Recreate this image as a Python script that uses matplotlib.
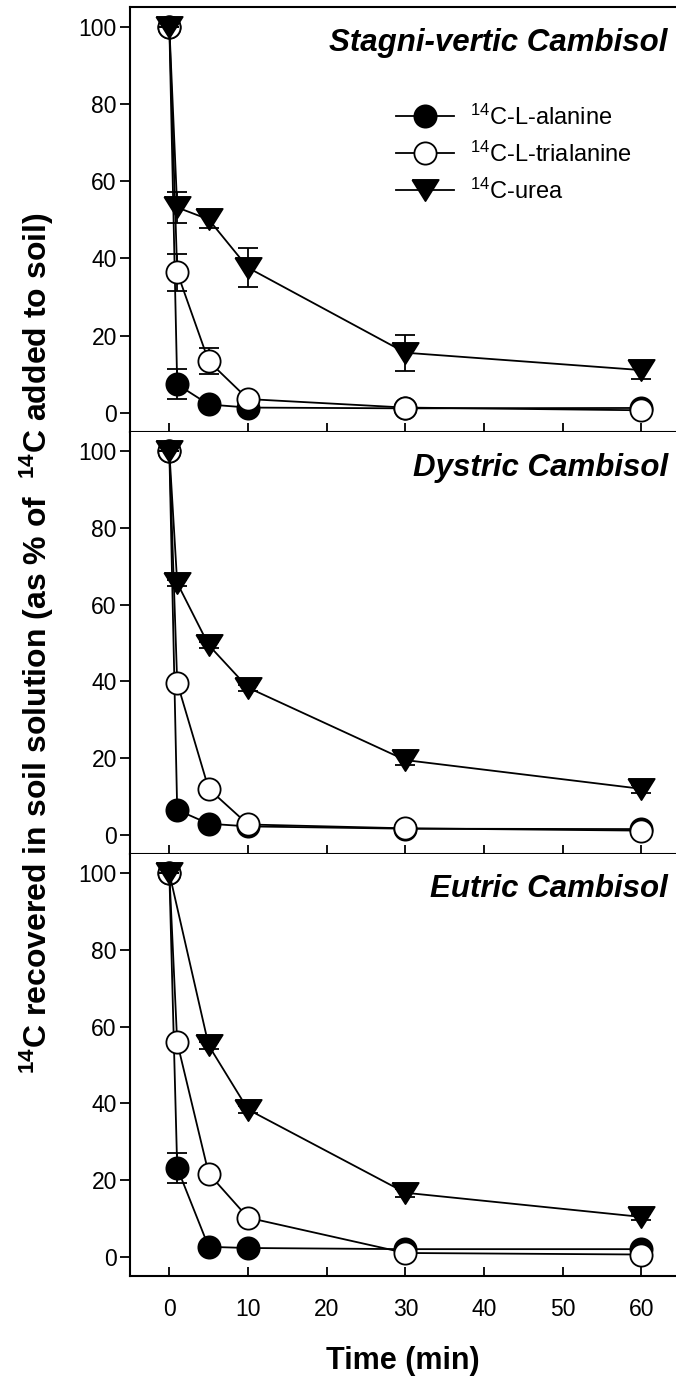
import matplotlib
matplotlib.use("Agg")
import matplotlib.pyplot as plt

# sampling times (min)
TIME = [0, 1, 5, 10, 30, 60]
TIME_UREA_EUTRIC = [0, 5, 10, 30, 60]

SOILS = ["Stagni-vertic Cambisol", "Dystric Cambisol", "Eutric Cambisol"]

# 14C left in soil solution (% of added)
ALA_STAGNI = [100, 7.4, 2.2, 1.4, 1.2, 1.3]
ALA_STAGNI_ERR = [0, 3.9, 0.4, 0.3, 0.3, 0.3]
TRI_STAGNI = [100, 36.4, 13.4, 3.6, 1.4, 0.7]
TRI_STAGNI_ERR = [0, 4.7, 3.4, 0.5, 0.3, 0.5]
UREA_STAGNI = [100, 53.2, 50.1, 37.6, 15.6, 11.1]
UREA_STAGNI_ERR = [0, 4.0, 2.3, 5.0, 4.7, 2.3]

ALA_DYSTRIC = [100, 6.5, 2.9, 2.2, 1.6, 1.5]
ALA_DYSTRIC_ERR = [0, 0.5, 0.3, 0.3, 0.2, 0.2]
TRI_DYSTRIC = [100, 39.7, 12.0, 2.7, 1.7, 1.1]
TRI_DYSTRIC_ERR = [0, 0.8, 0.5, 0.3, 0.3, 0.3]
UREA_DYSTRIC = [100, 65.7, 49.5, 38.4, 19.5, 12.0]
UREA_DYSTRIC_ERR = [0, 0.8, 0.8, 0.8, 1.2, 1.0]

ALA_EUTRIC = [100, 23.2, 2.6, 2.3, 2.0, 2.0]
ALA_EUTRIC_ERR = [0, 3.9, 0.3, 0.3, 0.3, 0.3]
TRI_EUTRIC = [100, 55.9, 21.7, 10.2, 1.0, 0.6]
TRI_EUTRIC_ERR = [0, 0.8, 0.8, 0.5, 0.3, 0.3]
UREA_EUTRIC = [100, 55.1, 38.4, 16.7, 10.4]
UREA_EUTRIC_ERR = [0, 0.8, 0.8, 1.0, 0.8]

LABELS = [r"$^{14}$C-L-alanine", r"$^{14}$C-L-trialanine", r"$^{14}$C-urea"]

plt.rcParams["font.family"] = ["Liberation Sans", "DejaVu Sans"]
plt.rcParams["mathtext.fontset"] = "custom"
plt.rcParams["mathtext.rm"] = "Liberation Sans"
plt.rcParams["mathtext.it"] = "Liberation Sans:italic"
plt.rcParams["mathtext.bf"] = "Liberation Sans:bold"

W, H = 676, 1381
fig = plt.figure(figsize=(W / 100, H / 100), dpi=100)

# panel edges in pixels (top, bottom)
left_px = 130.0
edges = [(7.3, 432.3), (432.3, 854.0), (854.0, 1276.0)]

panels = [
    (SOILS[0], [(TIME, ALA_STAGNI, ALA_STAGNI_ERR), (TIME, TRI_STAGNI, TRI_STAGNI_ERR),
                (TIME, UREA_STAGNI, UREA_STAGNI_ERR)]),
    (SOILS[1], [(TIME, ALA_DYSTRIC, ALA_DYSTRIC_ERR), (TIME, TRI_DYSTRIC, TRI_DYSTRIC_ERR),
                (TIME, UREA_DYSTRIC, UREA_DYSTRIC_ERR)]),
    (SOILS[2], [(TIME, ALA_EUTRIC, ALA_EUTRIC_ERR), (TIME, TRI_EUTRIC, TRI_EUTRIC_ERR),
                (TIME_UREA_EUTRIC, UREA_EUTRIC, UREA_EUTRIC_ERR)]),
]

# flatter, wider down-triangle like the original
tri_down = [(-1, 0.8), (1, 0.8), (0, -0.8), (-1, 0.8)]
styles = [
    dict(marker="o", mfc="black", ms=16),
    dict(marker="o", mfc="white", ms=16),
    dict(marker=tri_down, mfc="black", ms=19),
]

for i, (title, series) in enumerate(panels):
    top, bot = edges[i]
    ax = fig.add_axes([left_px / W, 1 - bot / H, 1 - left_px / W, (bot - top) / H])
    handles = []
    for k, ((xs, ys, es), st) in enumerate(zip(series, styles)):
        ax.errorbar(xs, ys, yerr=es, fmt="none", ecolor="black", elinewidth=1.3,
                    capsize=7, capthick=1.3, zorder=2 + k * 2)
        ln, = ax.plot(xs, ys, color="black", lw=1.3, marker=st["marker"], ms=st["ms"],
                      mfc=st["mfc"], mec="black", mew=1.3, zorder=3 + k * 2)
        handles.append(ln)

    ax.set_xlim(-5, 64.4)
    ax.set_ylim(-5, 105)
    ax.set_yticks([0, 20, 40, 60, 80, 100])
    ax.set_xticks([0, 10, 20, 30, 40, 50, 60])
    ax.spines["right"].set_visible(False)
    if i > 0:
        ax.spines["top"].set_visible(False)
    for s in ("left", "bottom", "top"):
        ax.spines[s].set_linewidth(1.5)
    ax.tick_params(axis="y", direction="out", length=7, width=1.3, labelsize=16.5, pad=2.5)
    ax.tick_params(axis="x", direction="in", length=6.5, width=1.3, labelsize=16.5, pad=16)
    if i < 2:
        ax.tick_params(axis="x", labelbottom=False)
    else:
        ax.set_xlabel("Time (min)", fontsize=22, fontweight="bold", labelpad=18)

    ax.text(0.985, 0.897, title, transform=ax.transAxes, ha="right", va="baseline",
            fontsize=22.5, fontweight="bold", fontstyle="italic")

    if i == 0:
        ax.legend(handles, LABELS, loc="upper left", bbox_to_anchor=(0.487, 0.772),
                  frameon=False, fontsize=17, handlelength=2.45, handletextpad=0.7,
                  labelspacing=0.5, borderpad=0, borderaxespad=0)

fig.text(37 / W, 1 - 643 / H,
         r"$^{\mathbf{14}}$C recovered in soil solution (as % of  $^{\mathbf{14}}$C added to soil)",
         rotation=90, ha="center", va="center", fontsize=23, fontweight="bold")

fig.savefig("out.png", dpi=100)
